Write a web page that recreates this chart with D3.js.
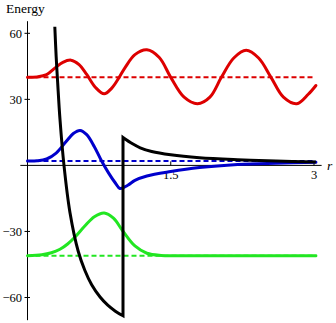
<!DOCTYPE html>
<html>
<head>
<meta charset="utf-8">
<script src="https://cdn.jsdelivr.net/npm/d3@7"></script>
<style>
  html, body { margin: 0; padding: 0; background: #fff; }
  svg { display: block; }
  text { font-family: "Liberation Serif", "DejaVu Serif", serif; fill: #000; }
</style>
</head>
<body>
<svg id="chart" width="336" height="323"></svg>
<script>
// Potential well (inside r < 1) and the barrier tail outside it
const potentialInnerR = [0.286, 0.30, 0.316, 0.34, 0.382, 0.445, 0.531, 0.60, 0.672, 0.76, 0.84, 0.92, 1.0];
const potentialInnerE = [63, 49.5, 37.5, 21, 0, -21.5, -39, -47.6, -54.2, -59.8, -63.5, -66.2, -68.3];
const potentialOuterR = [1.0, 1.1, 1.18, 1.3, 1.5, 1.8, 2.2, 2.6, 3.02];
const potentialOuterE = [12.7, 9.8, 8.0, 6.3, 4.8, 3.5, 2.6, 2.0, 1.6];

// Wave functions drawn around their energy levels
const redR = [0, 0.1, 0.2, 0.29, 0.37, 0.455, 0.54, 0.62, 0.71, 0.803, 0.88, 0.96, 1.02, 1.125, 1.25, 1.38, 1.50, 1.64, 1.78, 1.91, 2.03, 2.16, 2.29, 2.42, 2.55, 2.68, 2.82, 2.94, 3.02];
const redE = [40, 40.2, 41.2, 44.3, 46.8, 47.8, 45.8, 41.3, 35.5, 32.5, 35, 40, 44.3, 50.3, 52.5, 49, 40, 31, 28, 31, 40, 48.8, 52.3, 48.8, 40, 31, 28, 32.3, 36.3];

const blueR = [0, 0.1, 0.2, 0.3, 0.4, 0.48, 0.55, 0.62, 0.7, 0.776, 0.85, 0.92, 0.968, 1.05, 1.125, 1.25, 1.5, 1.8, 2.2, 2.6, 3.02];
const blueE = [2, 2.1, 2.9, 5.6, 10.6, 14.5, 15.9, 14, 8.5, 2, -3.5, -8, -10.5, -9, -6.8, -4.8, -2.8, -1.0, 0.4, 1.0, 1.4];

const greenR = [0, 0.15, 0.25, 0.34, 0.42, 0.5, 0.6, 0.7, 0.803, 0.9, 1.0, 1.125, 1.25, 1.4, 1.6, 3.02];
const greenE = [-41, -40.6, -39.7, -38.1, -35.7, -32.4, -27.5, -23.3, -21.6, -24.0, -29.9, -36.6, -39.9, -40.9, -41, -41];

// Energy levels (dashed)
const levelE = [40, 2, -41];
const levelColors = ["#dd0000", "#0000cc", "#22e622"];

// Axis ticks
const xTicks = [1.5, 3];
const xTickLabels = ["1.5", "3"];
const yTicks = [60, 30, -30, -60];
const yTickLabels = ["60", "30", "\u221230", "\u221260"];

const svg = d3.select("#chart");
const x = d3.scaleLinear().domain([0, 3]).range([27.5, 314]);
const y = d3.scaleLinear().domain([-60, 60]).range([297.5, 33.3]);

const zip = (rs, es) => rs.map((r, i) => [r, es[i]]);
const line = d3.line().x(d => x(d[0])).y(d => y(d[1])).curve(d3.curveCatmullRom.alpha(0.5));

// Axes
const axes = svg.append("g").attr("stroke", "#000").attr("stroke-width", 1);
axes.append("line")
  .attr("x1", x(-0.075)).attr("x2", x(3.08))
  .attr("y1", y(0)).attr("y2", y(0));
axes.append("line")
  .attr("x1", x(0)).attr("x2", x(0))
  .attr("y1", y(65.5)).attr("y2", y(-70.3));

yTicks.forEach(v => {
  axes.append("line")
    .attr("x1", x(0) - 3).attr("x2", x(0) + 2.5)
    .attr("y1", y(v)).attr("y2", y(v));
});
xTicks.forEach(v => {
  axes.append("line")
    .attr("x1", x(v)).attr("x2", x(v))
    .attr("y1", y(0) - 4).attr("y2", y(0));
});

// Tick labels
yTicks.forEach((v, i) => {
  svg.append("text")
    .attr("x", 22).attr("y", y(v))
    .attr("dy", "0.34em")
    .attr("text-anchor", "end")
    .attr("font-size", 12.5)
    .text(yTickLabels[i]);
});
xTicks.forEach((v, i) => {
  svg.append("text")
    .attr("x", x(v)).attr("y", 178.5)
    .attr("text-anchor", "middle")
    .attr("font-size", 12.5)
    .text(xTickLabels[i]);
});

svg.append("text")
  .attr("x", 6).attr("y", 13)
  .attr("font-size", 13.5)
  .text("Energy");
svg.append("text")
  .attr("x", 327).attr("y", 170)
  .attr("font-size", 13.5)
  .attr("font-style", "italic")
  .text("r");

// Dashed energy levels
levelE.forEach((e, i) => {
  svg.append("path")
    .attr("d", line([[0, e], [3, e]]))
    .attr("fill", "none")
    .attr("stroke", levelColors[i])
    .attr("stroke-width", 2)
    .attr("stroke-dasharray", "5,3");
});

// Wave functions
[[redR, redE, levelColors[0]], [blueR, blueE, levelColors[1]], [greenR, greenE, levelColors[2]]]
  .forEach(([rs, es, c]) => {
    svg.append("path")
      .attr("d", line(zip(rs, es)))
      .attr("fill", "none")
      .attr("stroke", c)
      .attr("stroke-width", 3)
      .attr("stroke-linecap", "round");
  });

// Potential: well, wall at r = 1, and outer tail
const inner = line(zip(potentialInnerR, potentialInnerE));
const outer = line(zip(potentialOuterR, potentialOuterE)).replace(/^M/, "L");
svg.append("path")
  .attr("d", inner + outer)
  .attr("fill", "none")
  .attr("stroke", "#000")
  .attr("stroke-width", 3)
  .attr("stroke-linejoin", "miter");
</script>
</body>
</html>
